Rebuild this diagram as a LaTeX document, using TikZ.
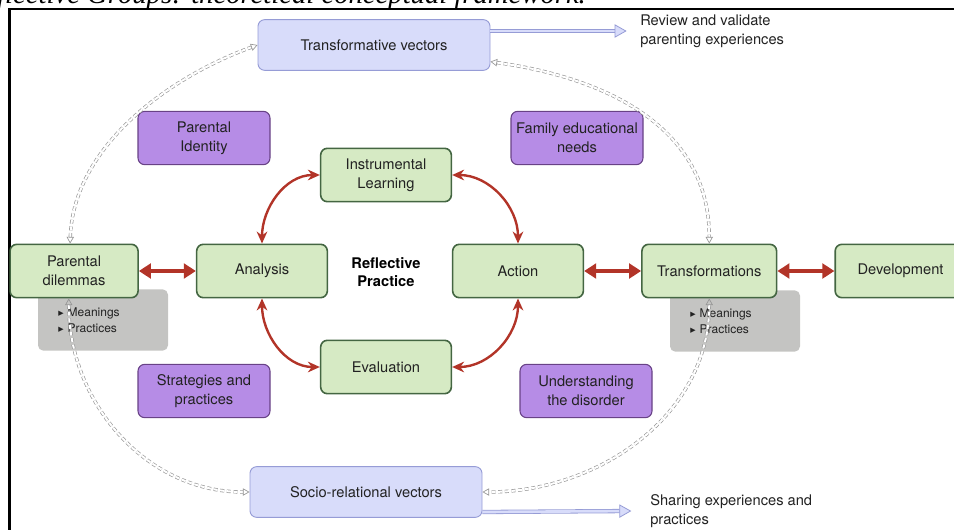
\documentclass[tikz,border=0pt]{standalone}
\usepackage{fontspec}
\setmainfont{TeX Gyre Heros}
\newfontfamily\capfont{Liberation Serif}
\newfontfamily\symfont{DejaVu Sans}
\usepackage{tikz}
\usetikzlibrary{shapes,arrows,arrows.meta,positioning}
\definecolor{greenfill}{RGB}{214,234,196}
\definecolor{greenline}{RGB}{68,102,66}
\definecolor{purplefill}{RGB}{182,140,230}
\definecolor{purpleline}{RGB}{104,66,134}
\definecolor{vecfill}{RGB}{216,220,250}
\definecolor{vecline}{RGB}{150,156,214}
\definecolor{arrowred}{RGB}{178,52,40}
\definecolor{subgrey}{RGB}{196,196,194}
\definecolor{dotgrey}{RGB}{150,150,150}
\definecolor{textgrey}{RGB}{34,34,34}
\tikzstyle{block} = [rectangle, draw=greenline, line width=1.2pt, fill=greenfill,
    rounded corners=5pt, minimum width=98pt, minimum height=40pt, align=center,
    text=textgrey, font=\fontsize{11}{14}\selectfont]
\tikzstyle{topic} = [rectangle, draw=purpleline, line width=0.8pt, fill=purplefill,
    rounded corners=5pt, minimum width=99pt, minimum height=40pt, align=center,
    text=textgrey, font=\fontsize{11}{14}\selectfont]
\tikzstyle{vector} = [rectangle, draw=vecline, line width=0.7pt, fill=vecfill,
    rounded corners=5pt, minimum width=174pt, minimum height=38pt,
    text=textgrey, font=\fontsize{11}{14}\selectfont]
\tikzstyle{sub} = [rectangle, fill=subgrey, rounded corners=4pt, minimum height=46pt,
    text width=67pt, inner xsep=15pt, align=left, text=textgrey,
    font=\fontsize{9}{12}\selectfont]
\tikzstyle{note} = [align=left, inner sep=0pt, text=textgrey, font=\fontsize{11}{14.5}\selectfont]
\tikzstyle{line} = [draw=arrowred, line width=3pt,
    {Triangle[length=9pt,width=11pt]}-{Triangle[length=9pt,width=11pt]}]
\tikzstyle{loop} = [draw=arrowred, line width=1.8pt,
    {Stealth[length=9pt,width=8pt]}-{Stealth[length=9pt,width=8pt]}]
\tikzstyle{vline} = [draw=dotgrey, line width=0.5pt, double=white, double distance=1.5pt,
    dash pattern=on 3pt off 2pt,
    {Triangle[open,length=5pt,width=5.5pt]}-{Triangle[open,length=5pt,width=5.5pt]}]
\tikzstyle{outflow} = [draw=vecline, line width=0.6pt, double=vecfill, double distance=2pt,
    -{Triangle[open,fill=vecfill,length=9pt,width=10pt]}]
\newcommand{\bulletarrow}{{\symfont\fontsize{8}{8}\selectfont ▸}\hspace{3pt}}

\begin{document}
\begin{tikzpicture}[x=0.75pt, y=-0.75pt, node distance=42.75pt, auto]
  \useasboundingbox (0,0) rectangle (954,529);
  % caption cut by the page
  \node [anchor=base west, inner sep=0pt, font=\capfont\itshape\fontsize{21.5}{21.5}\selectfont]
    (cap) at (-3,3.5) {flective Groups: theoretical conceptual framework.};
  \draw [line width=1.6pt] (960,9) -- (9.5,9) -- (9.5,540);
  % sub lists, behind the boxes
  \node [sub, minimum width=97.5pt] (subL) at (103,320) {\bulletarrow Meanings\\\bulletarrow Practices};
  \node [sub, minimum width=97.5pt] (subR) at (735,321) {\bulletarrow Meanings\\\bulletarrow Practices};
  % vectors
  \node [vector] (tvec) at (374,45) {Transformative vectors};
  \node [vector] (svec) at (366,492) {Socio-relational vectors};
  \node [note, anchor=west] (rvtxt) at (640,31) {Review and validate\\parenting experiences};
  \node [note, anchor=west] (shtxt) at (650,511) {Sharing experiences and\\practices};
  % topics
  \node [topic] (pid) at (204,138) {Parental\\Identity};
  \node [topic] (fam) at (577,138) {Family educational\\needs};
  \node [topic] (strat) at (204,391) {Strategies and\\practices};
  \node [topic] (und) at (586,391) {Understanding\\the disorder};
  % reflective cycle
  \node [block] (inst) at (386,175) {Instrumental\\Learning};
  \node [block] (ana) at (262,271) {Analysis};
  \node [block] (act) at (518,271) {Action};
  \node [block] (eval) at (386,367) {Evaluation};
  \node [font=\bfseries\fontsize{11}{14}\selectfont, align=center, text=black] (refl) at (386,272) {Reflective\\Practice};
  \node [block, left=of ana, minimum width=96pt] (dil) {Parental\\dilemmas};
  \node [block, right=of act, minimum width=101pt] (trans) {Transformations};
  \node [block, right=of trans] (dev) {Development};
  \path [line] (dil) -- (ana);
  \path [line] (act) -- (trans);
  \path [line] (trans) -- (dev);
  \path [loop] (ana.north) to[out=90, in=180] (inst.west);
  \path [loop] (inst.east) to[out=0, in=90] (act.north);
  \path [loop] (ana.south) to[out=-90, in=180] (eval.west);
  \path [loop] (eval.east) to[out=0, in=-90] (act.south);
  % vectors links
  \path [vline] ([xshift=-3pt]dil.north) to[out=88, in=200, looseness=0.9] (tvec.west);
  \path [vline] ([yshift=-12.5pt]tvec.east) to[out=-8, in=90, looseness=1.05] (trans.north);
  \path [vline] ([xshift=-4pt]dil.south) to[out=-90, in=180] (svec.west);
  \path [vline] (trans.south) to[out=-90, in=0] (svec.east);
  \path [outflow] ([yshift=10.5pt]tvec.east) -- ([xshift=-10pt]rvtxt.west);
  \path [outflow] ([yshift=-15pt]svec.east) -- ([xshift=-14pt]shtxt.west);
\end{tikzpicture}
\end{document}
